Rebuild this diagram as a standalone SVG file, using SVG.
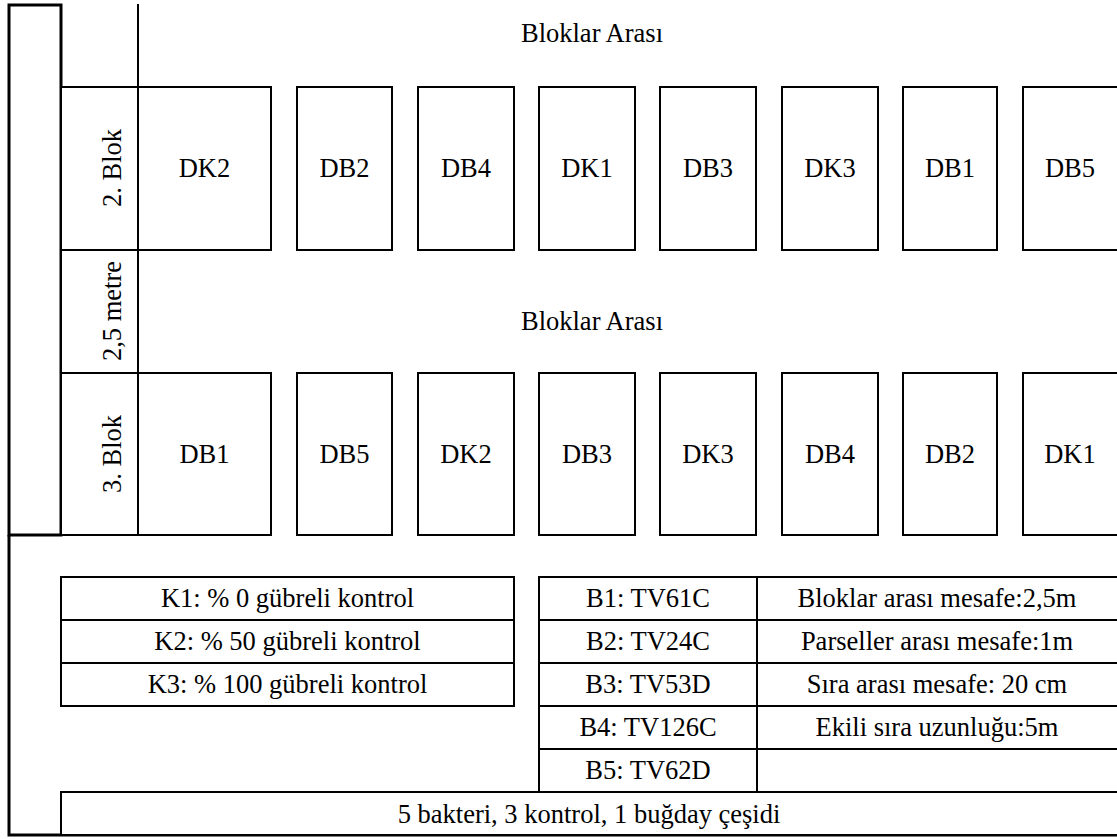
<svg xmlns="http://www.w3.org/2000/svg" width="1117" height="839" viewBox="0 0 1117 839">
<style>
.t{font-family:"Liberation Serif","Times New Roman",serif;font-size:26.5px;fill:#000;text-anchor:middle}
.c{fill:#fff;stroke:#000;stroke-width:2}
.f{fill:none;stroke:#000;stroke-width:3}
</style>
<rect width="1117" height="839" fill="#fff"/>
<g id="frame">
<rect class="f" x="9" y="5" width="52" height="530"/>
<path class="f" d="M9 535 V835 H1120"/>
<path d="M138 4 V535" fill="none" stroke="#000" stroke-width="2"/>
</g>
<g id="top-gap">
<text class="t" x="592" y="42">Bloklar Arası</text>
</g>
<g id="block2">
<rect class="c" x="61" y="87" width="77" height="163"/>
<text class="t" transform="translate(121 168) rotate(-90)">2. Blok</text>
<rect class="c" x="138" y="87" width="133" height="163"/><text class="t" x="204.5" y="177">DK2</text>
<rect class="c" x="297" y="87" width="95" height="163"/><text class="t" x="344.5" y="177">DB2</text>
<rect class="c" x="418" y="87" width="96" height="163"/><text class="t" x="466" y="177">DB4</text>
<rect class="c" x="539" y="87" width="96" height="163"/><text class="t" x="587" y="177">DK1</text>
<rect class="c" x="660" y="87" width="96" height="163"/><text class="t" x="708" y="177">DB3</text>
<rect class="c" x="782" y="87" width="96" height="163"/><text class="t" x="830" y="177">DK3</text>
<rect class="c" x="903" y="87" width="94" height="163"/><text class="t" x="950" y="177">DB1</text>
<rect class="c" x="1023" y="87" width="100" height="163"/><text class="t" x="1070" y="177">DB5</text>
</g>
<g id="mid-gap">
<rect class="c" x="61" y="250" width="77" height="123"/>
<text class="t" transform="translate(121 311) rotate(-90)">2,5 metre</text>
<text class="t" x="592" y="330">Bloklar Arası</text>
</g>
<g id="block3">
<rect class="c" x="61" y="373" width="77" height="162"/>
<text class="t" transform="translate(121 454) rotate(-90)">3. Blok</text>
<rect class="c" x="138" y="373" width="133" height="162"/><text class="t" x="204.5" y="463">DB1</text>
<rect class="c" x="297" y="373" width="95" height="162"/><text class="t" x="344.5" y="463">DB5</text>
<rect class="c" x="418" y="373" width="96" height="162"/><text class="t" x="466" y="463">DK2</text>
<rect class="c" x="539" y="373" width="96" height="162"/><text class="t" x="587" y="463">DB3</text>
<rect class="c" x="660" y="373" width="96" height="162"/><text class="t" x="708" y="463">DK3</text>
<rect class="c" x="782" y="373" width="96" height="162"/><text class="t" x="830" y="463">DB4</text>
<rect class="c" x="903" y="373" width="94" height="162"/><text class="t" x="950" y="463">DB2</text>
<rect class="c" x="1023" y="373" width="100" height="162"/><text class="t" x="1070" y="463">DK1</text>
</g>
<g id="legend-k">
<rect class="c" x="61" y="577" width="453" height="43"/><text class="t" x="287.5" y="607">K1: % 0 gübreli kontrol</text>
<rect class="c" x="61" y="620" width="453" height="43"/><text class="t" x="287.5" y="650">K2: % 50 gübreli kontrol</text>
<rect class="c" x="61" y="663" width="453" height="43"/><text class="t" x="287.5" y="693">K3: % 100 gübreli kontrol</text>
</g>
<g id="legend-b">
<rect class="c" x="539" y="577" width="218" height="43"/><text class="t" x="648" y="607">B1: TV61C</text>
<rect class="c" x="539" y="620" width="218" height="43"/><text class="t" x="648" y="650">B2: TV24C</text>
<rect class="c" x="539" y="663" width="218" height="43"/><text class="t" x="648" y="693">B3: TV53D</text>
<rect class="c" x="539" y="706" width="218" height="43"/><text class="t" x="648" y="736">B4: TV126C</text>
<rect class="c" x="539" y="749" width="218" height="43"/><text class="t" x="648" y="779">B5: TV62D</text>
<rect class="c" x="757" y="577" width="370" height="43"/><text class="t" x="937" y="607">Bloklar arası mesafe:2,5m</text>
<rect class="c" x="757" y="620" width="370" height="43"/><text class="t" x="937" y="650">Parseller arası mesafe:1m</text>
<rect class="c" x="757" y="663" width="370" height="43"/><text class="t" x="937" y="693">Sıra arası mesafe: 20 cm</text>
<rect class="c" x="757" y="706" width="370" height="43"/><text class="t" x="937" y="736">Ekili sıra uzunluğu:5m</text>
<rect class="c" x="757" y="749" width="370" height="43"/>
</g>
<g id="summary">
<rect class="c" x="61" y="792" width="1066" height="43"/>
<text class="t" x="589" y="823">5 bakteri, 3 kontrol, 1 buğday çeşidi</text>
</g>
</svg>
